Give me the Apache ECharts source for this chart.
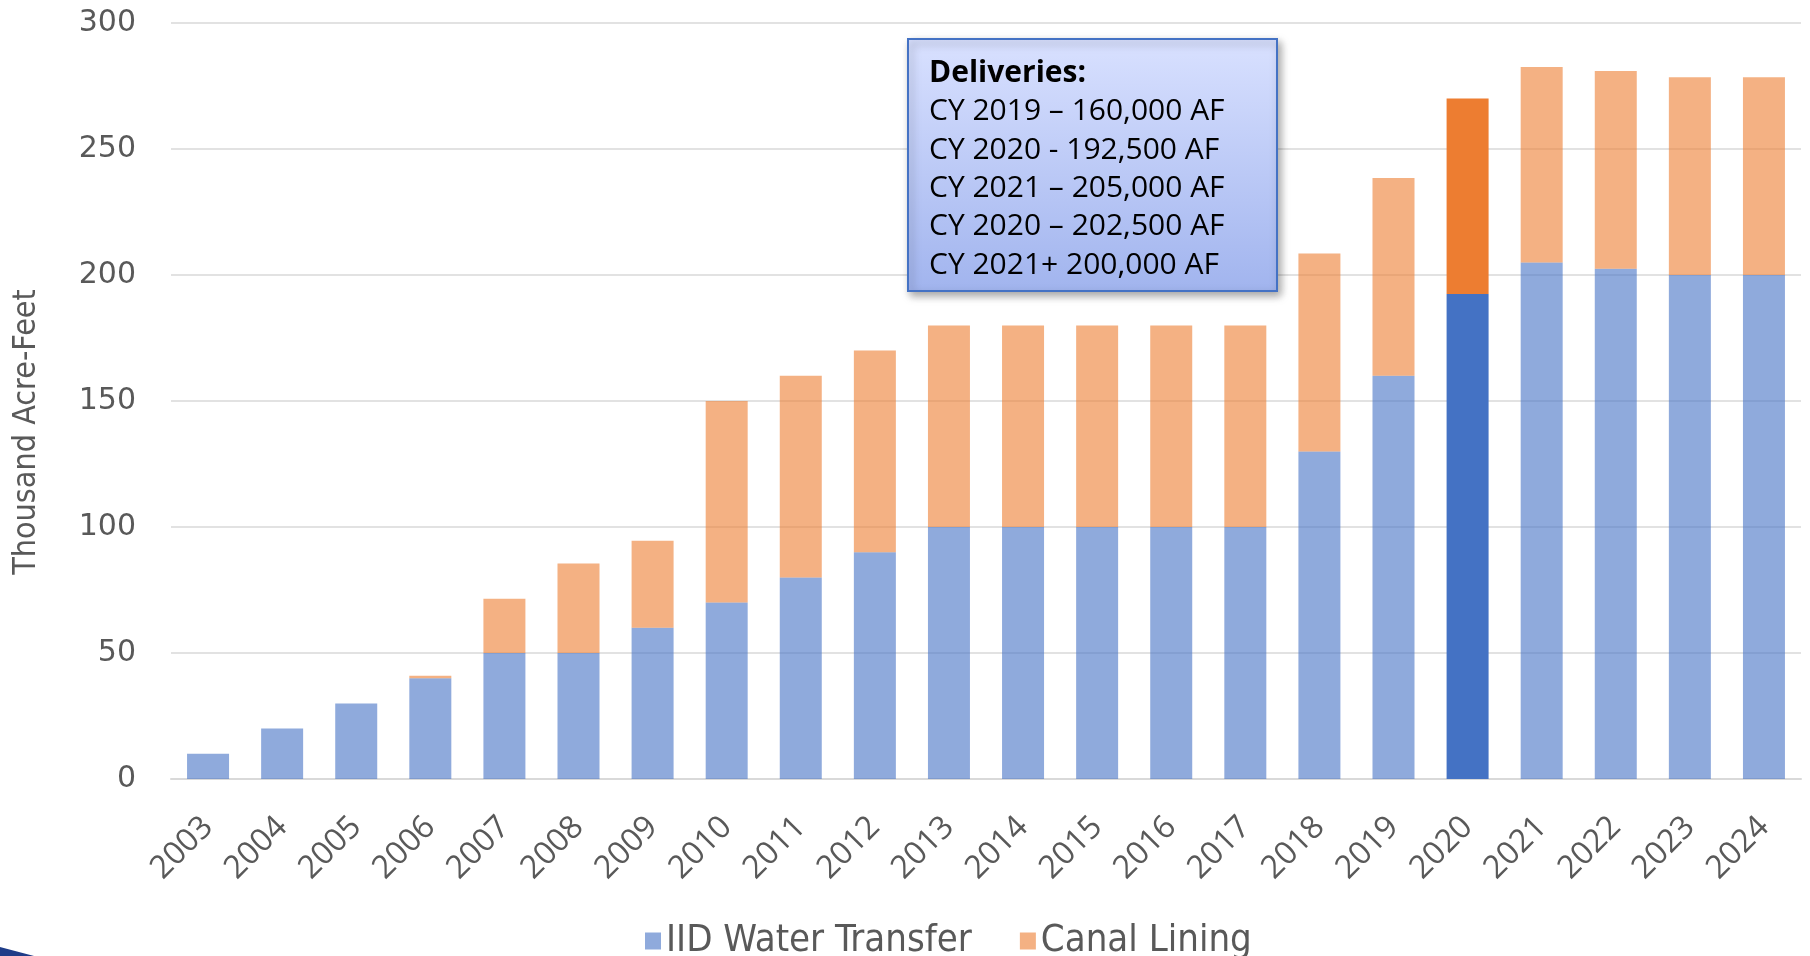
<!DOCTYPE html>
<html>
<head>
<meta charset="utf-8">
<script src="https://cdn.jsdelivr.net/npm/echarts@6/dist/echarts.min.js"></script>
<style>
  html, body { margin: 0; padding: 0; background: #fff; }
  #chart { width: 1810px; height: 956px; }
</style>
</head>
<body>
<div id="chart"></div>
<script>
const years = ['2003', '2004', '2005', '2006', '2007', '2008', '2009', '2010', '2011', '2012', '2013',
  '2014', '2015', '2016', '2017', '2018', '2019', '2020', '2021', '2022', '2023', '2024'];
const waterTransfer = [10, 20, 30, 40, 50, 50, 60, 70, 80, 90, 100,
  100, 100, 100, 100, 130, 160, 192.5, 205, 202.5, 200, 200];
const canalLining = [0, 0, 0, 1, 21.5, 35.5, 34.5, 80, 80, 80, 80,
  80, 80, 80, 80, 78.5, 78.5, 77.5, 77.5, 78.5, 78.5, 78.5];
const yTicks = [0, 50, 100, 150, 200, 250, 300];
const noteTitle = 'Deliveries:';
const noteLines = [
  'CY 2019 \u2013 160,000 AF',
  'CY 2020 - 192,500 AF',
  'CY 2021 \u2013 205,000 AF',
  'CY 2020 \u2013 202,500 AF',
  'CY 2021+ 200,000 AF'
];

// 2020 is drawn in full colour, the rest faded
const highlightYear = '2020';

function buildData(values, fullColor) {
  return values.map((v, i) => {
    if (years[i] === highlightYear) {
      return { value: v, itemStyle: { color: fullColor, opacity: 1 } };
    }
    return v;
  });
}

const narrowFont = '"Liberation Sans Narrow", "DejaVu Sans Condensed", "Liberation Sans", sans-serif';

const chart = echarts.init(document.getElementById('chart'));

const option = {
  animation: false,
  grid: { left: 171, right: 9, top: 23, bottom: 177 },
  legend: {
    left: 640,
    top: 917,
    itemWidth: 16,
    itemHeight: 17,
    itemGap: 48,
    icon: 'rect',
    textStyle: { fontFamily: narrowFont, fontSize: 38, color: '#595959' },
    data: [
      { name: 'IID Water Transfer', itemStyle: { color: '#8FAADC', opacity: 1 } },
      { name: 'Canal Lining', itemStyle: { color: '#F4B183', opacity: 1 } }
    ]
  },
  xAxis: {
    type: 'category',
    data: years,
    axisTick: { show: false },
    axisLine: { lineStyle: { color: '#D9D9D9', width: 2 } },
    axisLabel: {
      rotate: 45,
      margin: 43,
      interval: 0,
      fontFamily: 'Open Sans',
      fontSize: 32,
      color: '#595959'
    }
  },
  yAxis: {
    type: 'value',
    min: yTicks[0],
    max: yTicks[yTicks.length - 1],
    interval: yTicks[1] - yTicks[0],
    name: 'Thousand Acre-Feet',
    nameLocation: 'middle',
    nameGap: 128,
    nameTextStyle: { fontFamily: narrowFont, fontSize: 32, color: '#595959', padding: [0, 62, 0, 0] },
    axisLine: { show: false },
    axisTick: { show: false },
    splitLine: { lineStyle: { color: '#D9D9D9', width: 1.5 } },
    axisLabel: { margin: 35, fontFamily: 'DejaVu Sans', fontSize: 30, color: '#595959' }
  },
  series: [
    {
      name: 'IID Water Transfer',
      type: 'bar',
      stack: 'total',
      barWidth: 42,
      itemStyle: { color: '#4472C4', opacity: 0.6 },
      data: buildData(waterTransfer, '#4472C4')
    },
    {
      name: 'Canal Lining',
      type: 'bar',
      stack: 'total',
      barWidth: 42,
      itemStyle: { color: '#ED7D31', opacity: 0.6 },
      data: buildData(canalLining, '#ED7D31')
    }
  ],
  graphic: [
    {
      type: 'rect',
      shape: { x: 908, y: 39, width: 369, height: 252 },
      style: {
        fill: new echarts.graphic.LinearGradient(0, 0, 0, 1, [
          { offset: 0, color: '#D9E1FF' },
          { offset: 1, color: '#A1B4EE' }
        ]),
        stroke: '#4472C4',
        lineWidth: 2,
        shadowBlur: 8,
        shadowOffsetX: 3,
        shadowOffsetY: 4,
        shadowColor: 'rgba(0,0,0,0.35)'
      },
      z: 10
    },
    {
      type: 'text',
      x: 929,
      y: 54,
      z: 11,
      style: {
        text: '{b|' + noteTitle + '}\n' + noteLines.join('\n'),
        font: '30px "Open Sans"',
        fill: '#000',
        lineHeight: 38.4,
        rich: {
          b: { fontFamily: 'Open Sans', fontWeight: 'bold', fontSize: 30, lineHeight: 38.4, fill: '#000' }
        }
      }
    },
    {
      type: 'polygon',
      shape: { points: [[0, 947], [0, 956], [34, 956]] },
      style: { fill: '#1F3C88' }
    }
  ]
};

chart.setOption(option);
</script>
</body>
</html>
